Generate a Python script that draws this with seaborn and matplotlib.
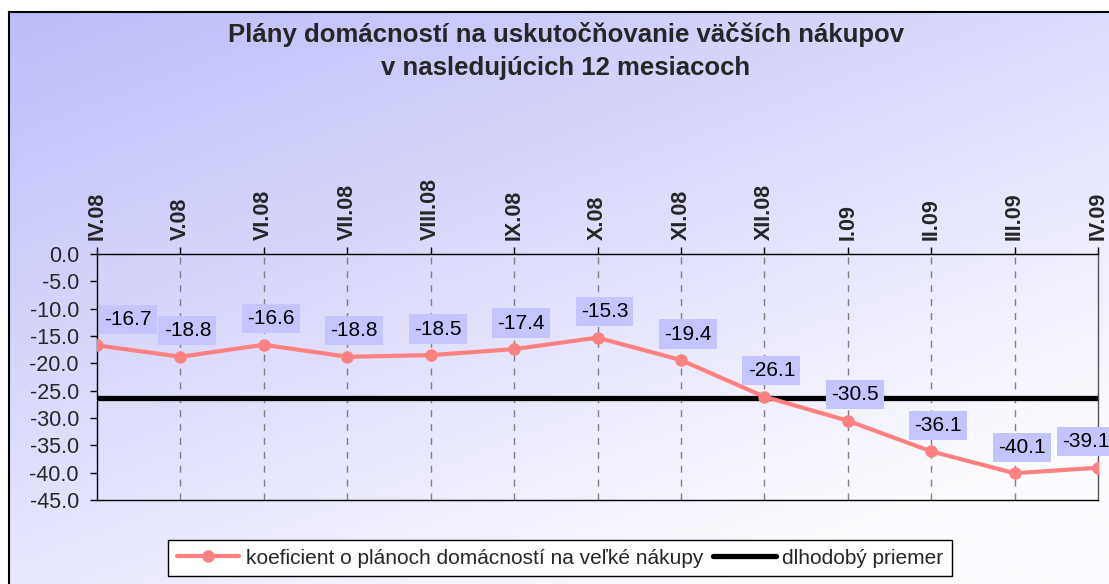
import numpy as np
import pandas as pd
import matplotlib
matplotlib.use("Agg")
import matplotlib.pyplot as plt
import seaborn as sns

months = ["IV.08", "V.08", "VI.08", "VII.08", "VIII.08", "IX.08", "X.08",
          "XI.08", "XII.08", "I.09", "II.09", "III.09", "IV.09"]
coef = [-16.7, -18.8, -16.6, -18.8, -18.5, -17.4, -15.3, -19.4, -26.1,
        -30.5, -36.1, -40.1, -39.1]
long_avg = [-26.4] * len(months)
y_ticks = [0, -5, -10, -15, -20, -25, -30, -35, -40, -45]

title = "Plány domácností na uskutočňovanie väčších nákupov\nv nasledujúcich 12 mesiacoch"
lab_coef = "koeficient o plánoch domácností na veľké nákupy"
lab_avg = "dlhodobý priemer"

sns.set_theme(style="white")
plt.rcParams["font.family"] = ["Liberation Sans", "DejaVu Sans"]

W, H = 1109, 584
fig = plt.figure(figsize=(W / 100, H / 100), dpi=100)
fig.patch.set_facecolor("white")

# gradient background of chart area
bg = fig.add_axes([9 / W, 0, 1 - 9 / W, 1 - 12 / H])
n = 256
yy, xx = np.mgrid[0:1:n * 1j, 0:1:n * 1j]
t = np.clip((xx * 0.55 + yy * 0.75) / 1.1, 0, 1)
c0 = np.array([188, 188, 250]) / 255
c1 = np.array([252, 252, 255]) / 255
img = c0[None, None, :] * (1 - t[..., None]) + c1[None, None, :] * t[..., None]
bg.imshow(img, aspect="auto", extent=[0, 1, 0, 1], origin="upper")
bg.set_xlim(0, 1)
bg.set_ylim(0, 1)
bg.set_xticks([])
bg.set_yticks([])
for s in ["right", "bottom"]:
    bg.spines[s].set_visible(False)
for s in ["left", "top"]:
    bg.spines[s].set_color("black")
    bg.spines[s].set_linewidth(1.5)

# plot axes
left, right, top, bottom = 97, 1098, 254, 500
ax = fig.add_axes([left / W, 1 - bottom / H, (right - left) / W, (bottom - top) / H])
ax.set_facecolor("none")

df = pd.DataFrame({"x": np.arange(len(months)), "coef": coef, "avg": long_avg})
sns.lineplot(data=df, x="x", y="avg", ax=ax, color="black", linewidth=3.8,
             label=lab_avg, zorder=3)
sns.lineplot(data=df, x="x", y="coef", ax=ax, color="#ff8080", linewidth=3,
             marker="o", markersize=9, markeredgewidth=0, label=lab_coef, zorder=4)

ax.set_xlim(0, len(months) - 1)
ax.set_ylim(-45, 0)
ax.set_yticks(y_ticks)
ax.set_yticklabels([f"{v:.1f}" for v in y_ticks], fontsize=15.5)
ax.xaxis.tick_top()
ax.set_xticks(df["x"])
ax.set_xticklabels(months, rotation=90, fontsize=15.5, fontweight="bold")
ax.set_xlabel("")
ax.set_ylabel("")
ax.tick_params(axis="both", direction="out", length=5, width=1, color="black")
ax.tick_params(axis="x", pad=5, top=True)
ax.tick_params(axis="y", left=True, pad=8)
for xv in df["x"][1:-1]:
    ax.axvline(xv, color="#808080", linestyle=(0, (5, 5)), linewidth=1, zorder=1)
for s in ax.spines.values():
    s.set_visible(True)
    s.set_color("black")
    s.set_linewidth(1)
ax.spines["right"].set_color("#555555")

last = len(coef) - 1
for i, (xv, v) in enumerate(zip(df["x"], coef)):
    if i == 0:
        ha, dx = "left", 7
    elif i == last:
        ha, dx = "right", 12
    else:
        ha, dx = "center", 7
    ax.annotate(f"{v:.1f}", (xv, v), xytext=(dx, 26), textcoords="offset pixels",
                ha=ha, va="center", fontsize=15, color="black", zorder=6,
                bbox=dict(boxstyle="square,pad=0.25", facecolor="#c4c4ff",
                          edgecolor="none"), annotation_clip=False)

fig.text(566 / W, 1 - 22 / H, title, ha="center", va="top", fontsize=18.5,
         fontweight="bold", linespacing=1.45)

h, l = ax.get_legend_handles_labels()
if ax.legend_:
    ax.legend_.remove()
leg = fig.legend(h[::-1], l[::-1], loc="center", bbox_to_anchor=(560 / W, 1 - 558 / H),
                 ncol=2, fontsize=15, frameon=True, fancybox=False, edgecolor="black",
                 facecolor="white", framealpha=1, handlelength=3.0, columnspacing=0.5,
                 handletextpad=0.3, borderpad=0.4)
leg.get_frame().set_linewidth(1)

fig.savefig("out.png", dpi=100)
